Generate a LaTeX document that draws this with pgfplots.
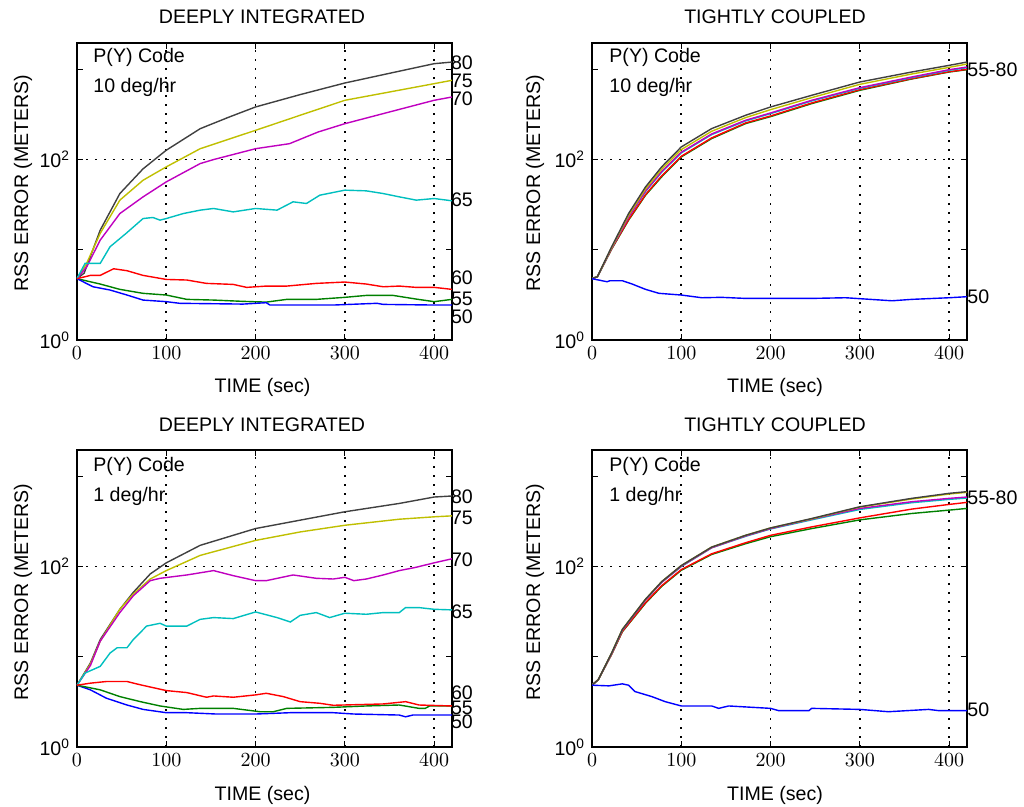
\documentclass[border=0pt]{standalone}
\usepackage{fontspec}
\setmainfont{Liberation Sans}
\usepackage{pgfplots}
\pgfplotsset{compat=1.18}

% MATLAB default line colours
\definecolor{mblue}{RGB}{0,0,255}
\definecolor{mgreen}{RGB}{0,128,0}
\definecolor{mred}{RGB}{255,0,0}
\definecolor{mcyan}{RGB}{0,191,191}
\definecolor{mmag}{RGB}{191,0,191}
\definecolor{myel}{RGB}{191,191,0}
\definecolor{mgray}{RGB}{64,64,64}

\newcommand{\fs}{\fontsize{9.8}{11}\selectfont}

\pgfplotsset{
  rsspanel/.style={
    scale only axis, width=187.5pt, height=148.5pt,
    anchor=south west,
    xmin=0, xmax=420, ymin=1, ymax=1960,
    xtick={0,100,200,300,400},
    ytick={1,100}, yticklabels={10\textsuperscript{0},10\textsuperscript{2}},
    minor ytick={},
    extra y ticks={10,1000}, extra y tick labels={},
    extra y tick style={grid=none, major tick length=3pt},
    xmajorgrids, ymajorgrids,
    major grid style={black, line width=0.85pt, dash pattern=on 0.85pt off 3.65pt},
    axis line style={line width=0.7pt},
    tick style={black, line width=0.6pt},
    major tick length=3pt,
    tick align=inside,
    tick label style={font=\fs},
    every axis plot/.append style={line width=0.7pt, no markers},
  },
}

\begin{document}
\begin{tikzpicture}
\path[use as bounding box] (0,0) rectangle (512pt,403.5pt);

% ---------- top left: deeply integrated, 10 deg/hr
\begin{semilogyaxis}[rsspanel, at={(38.5pt,233.5pt)}]
\addplot[mgray] coordinates {(0,4.8) (8,5.5) (26,16.5) (48,42) (74,79) (100,127) (138,220) (170,295) (200,383) (250,525) (300,706) (350,904) (400,1156) (420,1205)};
\addplot[myel] coordinates {(0,4.8) (10,6.8) (26,15.2) (48,35.5) (74,59) (100,83) (138,132) (200,211) (250,310) (300,454) (350,561) (400,694) (420,756)};
\addplot[mmag] coordinates {(0,4.8) (11,6.5) (26,12.8) (48,25.2) (74,38.6) (100,56.6) (138,90.3) (153,100) (200,132) (238,150) (270,202) (300,250) (350,337) (400,454) (420,494)};
\addplot[mcyan] coordinates {(0,4.8) (9,7.06) (26,7.06) (37,10.8) (55,15.2) (74,22.2) (85,22.8) (93,21.3) (100,22.2) (119,25.2) (138,27.5) (153,28.7) (175,26.3) (200,28.7) (224,27.5) (242,34.0) (257,32.6) (272,40.3) (300,45.8) (324,45.0) (343,42.0) (361,38.6) (380,35.5) (400,37.0) (420,34.9)};
\addplot[mgreen] coordinates {(0,4.78) (26,4.17) (48,3.64) (74,3.29) (100,3.15) (123,2.82) (153,2.77) (186,2.68) (212,2.63) (235,2.82) (268,2.82) (300,2.97) (324,3.12) (354,3.12) (380,2.84) (400,2.66) (420,2.82)};
\addplot[mblue] coordinates {(0,4.78) (18,3.89) (37,3.58) (56,3.15) (74,2.77) (100,2.66) (115,2.55) (186,2.50) (212,2.59) (216,2.44) (287,2.44) (336,2.55) (343,2.48) (400,2.44) (420,2.44)};
\addplot[mred] coordinates {(0,4.78) (15,5.2) (26,5.2) (41,6.16) (56,5.86) (74,5.2) (100,4.69) (123,4.62) (145,4.24) (175,4.13) (190,3.83) (212,3.96) (235,3.96) (268,4.24) (300,4.39) (324,4.17) (343,3.89) (361,3.96) (380,3.83) (400,3.83) (420,3.64)};
\end{semilogyaxis}

% ---------- top right: tightly coupled, 10 deg/hr
\begin{semilogyaxis}[rsspanel, at={(296pt,233.5pt)}]
\addplot[mgreen] coordinates {(0,4.8) (6,5.02) (22,10.17) (41,21.30) (60,40.30) (78,64.29) (100,107.0) (134,170.8) (172,250.4) (200,299.2) (246,416.9) (300,585.6) (358,781.6) (400,934.3) (420,991.5)};
\addplot[mred] coordinates {(0,4.8) (6,5.02) (22,10.26) (41,21.67) (60,40.99) (78,65.95) (100,108.9) (134,173.8) (172,254.6) (200,304.3) (246,424.0) (300,595.6) (358,788.3) (400,942.4) (420,1000)};
\addplot[mcyan] coordinates {(0,4.8) (6,5.02) (22,10.43) (41,23.19) (60,44.24) (78,72.41) (100,118.5) (134,189.1) (172,267.9) (200,322.9) (246,446.1) (300,616.2) (358,808.7) (400,974.8) (420,1043.5)};
\addplot[mmag] coordinates {(0,4.8) (6,5.02) (22,10.43) (41,23.19) (60,45.00) (78,73.65) (100,120.6) (134,192.3) (172,272.5) (200,328.5) (246,453.8) (300,626.6) (358,822.6) (400,991.5) (420,1061.2)};
\addplot[myel] coordinates {(0,4.8) (6,5.02) (22,10.61) (41,24.20) (60,47.35) (78,78.16) (100,129.0) (134,205.9) (172,291.7) (200,357.6) (246,485.7) (300,682.1) (358,887.8) (400,1052.2) (420,1145.5)};
\addplot[mgray] coordinates {(0,4.8) (6,5.02) (22,10.80) (41,25.25) (60,49.83) (78,82.96) (100,138.1) (134,220.4) (172,309.6) (200,382.8) (246,515.5) (300,724.0) (358,934.3) (400,1107.6) (420,1205.7)};
\addplot[mblue] coordinates {(0,4.78) (17,4.42) (20,4.54) (34,4.54) (45,4.17) (60,3.64) (75,3.29) (100,3.15) (123,2.94) (145,2.97) (172,2.89) (246,2.89) (284,2.94) (336,2.72) (358,2.82) (400,2.94) (420,3.02)};
\end{semilogyaxis}

% ---------- bottom left: deeply integrated, 1 deg/hr
\begin{semilogyaxis}[rsspanel, at={(38.5pt,30pt)}]
\addplot[mgray] coordinates {(0,4.84) (15,8.53) (26,15.5) (48,33.6) (63,51.7) (82,82.8) (100,110) (138,172) (200,264) (250,327) (300,405) (361,501) (400,590) (420,606)};
\addplot[myel] coordinates {(0,4.84) (15,8.3) (26,14.9) (48,33.6) (63,49.5) (82,72.8) (100,90.2) (138,133) (200,195) (250,242) (300,287) (361,335) (400,356) (420,365)};
\addplot[mmag] coordinates {(0,4.84) (15,8.0) (26,14.9) (48,30.9) (63,47.4) (82,69.8) (93,74.1) (123,80.7) (153,90.2) (175,79.3) (200,69.8) (212,69.8) (242,80.7) (268,74.1) (287,72.8) (300,76.0) (310,69.8) (324,72.8) (343,80.7) (361,90.2) (380,98.3) (400,110) (420,122)};
\addplot[mcyan] coordinates {(0,4.84) (9,6.6) (26,7.83) (37,11.0) (45,12.6) (56,12.6) (63,15.5) (78,21.9) (93,23.5) (100,21.9) (123,21.9) (138,26.0) (153,27.2) (175,26.5) (200,31.4) (224,27.2) (239,24.3) (250,28.8) (268,30.9) (283,27.2) (300,30.4) (324,29.6) (343,30.9) (361,30.9) (368,35.1) (383,35.1) (400,33.6) (420,33.1)};
\addplot[mblue] coordinates {(0,4.84) (15,4.30) (33,3.47) (56,2.92) (74,2.61) (100,2.40) (123,2.40) (156,2.32) (200,2.32) (220,2.36) (239,2.40) (287,2.40) (310,2.32) (361,2.26) (368,2.16) (376,2.26) (420,2.26)};
\addplot[mgreen] coordinates {(0,4.84) (26,4.30) (48,3.62) (71,3.18) (93,2.85) (119,2.61) (138,2.68) (175,2.68) (205,2.46) (220,2.46) (235,2.68) (287,2.75) (324,2.85) (361,2.92) (383,2.68) (390,2.68) (395,2.85) (420,2.85)};
\addplot[mred] coordinates {(0,4.84) (15,5.10) (33,5.32) (56,5.32) (71,4.89) (100,4.22) (123,4.01) (145,3.56) (153,3.68) (175,3.56) (200,3.78) (212,3.94) (231,3.62) (250,3.18) (272,3.05) (287,2.90) (343,3.0) (368,3.18) (383,2.92) (420,2.85)};
\end{semilogyaxis}

% ---------- bottom right: tightly coupled, 1 deg/hr
\begin{semilogyaxis}[rsspanel, at={(296pt,30pt)}]
\addplot[mgreen] coordinates {(0,4.85) (7,5.56) (22,10.66) (34,18.94) (60,39.27) (78,60.29) (100,91.0) (134,136.2) (172,179.2) (200,214.5) (246,263.6) (300,329.4) (358,387.6) (400,422.5) (420,441.0)};
\addplot[mred] coordinates {(0,4.85) (7,5.56) (22,10.66) (34,19.11) (60,39.95) (78,61.33) (100,92.57) (134,138.5) (172,183.8) (200,222.0) (246,275.2) (300,346.7) (358,433.5) (400,488.7) (420,514.6)};
\addplot[mcyan] coordinates {(0,4.85) (7,5.56) (22,10.85) (34,19.78) (60,42.79) (78,66.83) (100,100) (134,161.6) (172,216.4) (200,261.3) (246,329.4) (300,429.8) (358,510.2) (400,555.7) (420,575.2)};
\addplot[mmag] coordinates {(0,4.85) (7,5.56) (22,10.85) (34,19.78) (60,42.79) (78,66.83) (100,100.9) (134,161.6) (172,218.3) (200,263.6) (246,335.1) (300,441.0) (358,523.4) (400,570.2) (420,590.0)};
\addplot[myel] coordinates {(0,4.85) (7,5.56) (22,11.03) (34,20.12) (60,43.52) (78,68.0) (100,102.6) (134,164.4) (172,222.0) (200,268.1) (246,338.0) (300,456.3) (358,560.5) (400,637.5) (420,665.4)};
\addplot[mgray] coordinates {(0,4.85) (7,5.56) (22,11.03) (34,20.12) (60,43.52) (78,68.0) (100,102.6) (134,164.4) (172,222.0) (200,268.1) (246,340.9) (300,460.2) (358,570.2) (400,648.5) (420,676.9)};
\addplot[mblue] coordinates {(0,4.84) (19,4.76) (34,5.01) (41,4.84) (48,4.12) (67,3.62) (82,3.18) (100,2.85) (134,2.85) (142,2.68) (153,2.85) (200,2.68) (209,2.53) (243,2.53) (246,2.68) (300,2.61) (332,2.46) (377,2.61) (388,2.53) (420,2.53)};
\end{semilogyaxis}

% ---------- titles and labels
\begin{scope}[every node/.style={font=\fs, inner sep=0pt}]
\node at (131pt,395pt) {DEEPLY INTEGRATED};
\node at (387.5pt,395pt) {TIGHTLY COUPLED};
\node at (131pt,191pt) {DEEPLY INTEGRATED};
\node at (387.5pt,191pt) {TIGHTLY COUPLED};
\node at (131.25pt,210pt) {TIME (sec)};
\node at (387.5pt,210pt) {TIME (sec)};
\node at (131.25pt,6pt) {TIME (sec)};
\node at (387.5pt,6pt) {TIME (sec)};
\node[rotate=90] at (11.5pt,312pt) {RSS ERROR (METERS)};
\node[rotate=90] at (267.5pt,312pt) {RSS ERROR (METERS)};
\node[rotate=90] at (11.5pt,107.5pt) {RSS ERROR (METERS)};
\node[rotate=90] at (267.5pt,107.5pt) {RSS ERROR (METERS)};
% annotations inside the panels
\node[anchor=west] at (46.5pt,375pt) {P(Y) Code};
\node[anchor=west] at (46.5pt,360pt) {10 deg/hr};
\node[anchor=west] at (304.5pt,375pt) {P(Y) Code};
\node[anchor=west] at (304.5pt,360pt) {10 deg/hr};
\node[anchor=west] at (46.5pt,170.5pt) {P(Y) Code};
\node[anchor=west] at (46.5pt,155.5pt) {1 deg/hr};
\node[anchor=west] at (304.5pt,170.5pt) {P(Y) Code};
\node[anchor=west] at (304.5pt,155.5pt) {1 deg/hr};
% curve labels on the right edge
\node[anchor=west] at (225.3pt,372pt) {80};
\node[anchor=west] at (225.3pt,363pt) {75};
\node[anchor=west] at (225.3pt,354pt) {70};
\node[anchor=west] at (225.3pt,303.5pt) {65};
\node[anchor=west] at (225.3pt,264.5pt) {60};
\node[anchor=west] at (225.3pt,254pt) {55};
\node[anchor=west] at (225.3pt,245pt) {50};
\node[anchor=west] at (483.5pt,368.5pt) {55-80};
\node[anchor=west] at (483.5pt,255pt) {50};
\node[anchor=west] at (225.3pt,155pt) {80};
\node[anchor=west] at (225.3pt,144.5pt) {75};
\node[anchor=west] at (225.3pt,123.5pt) {70};
\node[anchor=west] at (225.3pt,97.5pt) {65};
\node[anchor=west] at (225.3pt,57pt) {60};
\node[anchor=west] at (225.3pt,49.5pt) {55};
\node[anchor=west] at (225.3pt,42.5pt) {50};
\node[anchor=west] at (483.5pt,154.5pt) {55-80};
\node[anchor=west] at (483.5pt,48.5pt) {50};
\end{scope}
\end{tikzpicture}
\end{document}
